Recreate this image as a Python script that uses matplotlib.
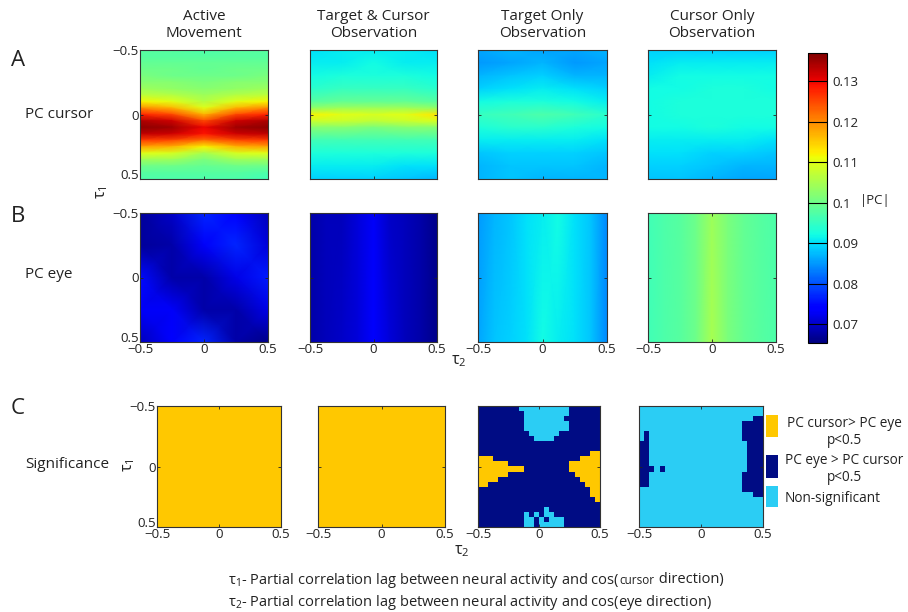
import numpy as np
import matplotlib
matplotlib.use("Agg")
import matplotlib.pyplot as plt
from matplotlib.colors import ListedColormap, Normalize
from matplotlib.patches import Rectangle
from matplotlib.offsetbox import TextArea, HPacker, AnnotationBbox
import matplotlib.cm as cm

plt.rcParams['font.family'] = ['Open Sans', 'DejaVu Sans']
plt.rcParams['mathtext.fontset'] = 'custom'
plt.rcParams['mathtext.rm'] = 'Open Sans'
plt.rcParams['mathtext.it'] = 'Open Sans:italic'
plt.rcParams['axes.unicode_minus'] = True

# ---------------- data ----------------
conditions = ["Active\nMovement", "Target & Cursor\nObservation",
              "Target Only\nObservation", "Cursor Only\nObservation"]
row_labels = ["PC cursor", "PC eye", "Significance"]
panel_letters = ["A", "B", "C"]
tick_vals = [-0.5, 0, 0.5]
tick_labels = ["\u22120.5", "0", "0.5"]
cbar_ticks = [0.07, 0.08, 0.09, 0.10, 0.11, 0.12, 0.13]
cbar_ticklabels = ["0.07", "0.08", "0.09", "0.1", "0.11", "0.12", "0.13"]
clim = (0.0653, 0.137)
legend_labels = ["PC cursor> PC eye\np<0.5", "PC eye > PC cursor\np<0.5", "Non-significant"]

tau2_5 = [-0.5, -0.25, 0.0, 0.25, 0.5]
tau2_9 = [-0.5, -0.375, -0.25, -0.125, 0.0, 0.125, 0.25, 0.375, 0.5]
tau1_21 = [-0.5, -0.45, -0.4, -0.35, -0.3, -0.25, -0.2, -0.15, -0.1, -0.05, 0.0,
           0.05, 0.1, 0.15, 0.2, 0.25, 0.3, 0.35, 0.4, 0.45, 0.5]
tau1_13 = [-0.5, -0.4, -0.3, -0.2, -0.1, -0.05, 0.0, 0.05, 0.1, 0.2, 0.3, 0.4, 0.5]
tau1_11 = [-0.5, -0.4, -0.3, -0.2, -0.1, 0.0, 0.1, 0.2, 0.3, 0.4, 0.5]
tau1_5 = [-0.5, -0.25, 0.0, 0.25, 0.5]
tau1_2 = [-0.5, 0.5]

# Row A: |PC| cursor
pc_cursor_active = [
    [0.098, 0.098, 0.097, 0.098, 0.098],
    [0.098, 0.098, 0.098, 0.098, 0.098],
    [0.099, 0.099, 0.099, 0.099, 0.099],
    [0.100, 0.100, 0.099, 0.100, 0.100],
    [0.101, 0.100, 0.100, 0.100, 0.101],
    [0.102, 0.102, 0.101, 0.102, 0.102],
    [0.104, 0.103, 0.102, 0.103, 0.104],
    [0.107, 0.106, 0.104, 0.106, 0.107],
    [0.112, 0.110, 0.106, 0.110, 0.112],
    [0.120, 0.117, 0.110, 0.117, 0.120],
    [0.128, 0.125, 0.117, 0.125, 0.128],
    [0.134, 0.132, 0.125, 0.132, 0.134],
    [0.136, 0.135, 0.130, 0.135, 0.136],
    [0.133, 0.132, 0.129, 0.132, 0.133],
    [0.126, 0.125, 0.122, 0.125, 0.126],
    [0.118, 0.117, 0.112, 0.117, 0.118],
    [0.110, 0.109, 0.105, 0.109, 0.110],
    [0.104, 0.104, 0.101, 0.104, 0.104],
    [0.100, 0.100, 0.099, 0.100, 0.100],
    [0.098, 0.098, 0.098, 0.098, 0.097],
    [0.097, 0.097, 0.097, 0.097, 0.096],
]
pc_cursor_tc = [
    [0.090, 0.091, 0.091, 0.091, 0.090],
    [0.091, 0.091, 0.092, 0.091, 0.091],
    [0.092, 0.093, 0.093, 0.093, 0.092],
    [0.094, 0.095, 0.095, 0.095, 0.094],
    [0.098, 0.099, 0.099, 0.099, 0.098],
    [0.103, 0.104, 0.104, 0.104, 0.103],
    [0.112, 0.110, 0.109, 0.110, 0.113],
    [0.108, 0.108, 0.107, 0.108, 0.109],
    [0.102, 0.102, 0.101, 0.102, 0.102],
    [0.096, 0.096, 0.096, 0.096, 0.096],
    [0.093, 0.093, 0.093, 0.093, 0.093],
    [0.091, 0.091, 0.091, 0.090, 0.090],
    [0.089, 0.089, 0.089, 0.088, 0.087],
]
pc_cursor_target = [
    [0.086, 0.087, 0.086, 0.086, 0.087],
    [0.085, 0.086, 0.087, 0.085, 0.086],
    [0.087, 0.088, 0.089, 0.087, 0.087],
    [0.089, 0.090, 0.091, 0.090, 0.089],
    [0.092, 0.093, 0.093, 0.092, 0.091],
    [0.095, 0.096, 0.097, 0.096, 0.094],
    [0.093, 0.094, 0.094, 0.093, 0.092],
    [0.091, 0.091, 0.091, 0.091, 0.090],
    [0.088, 0.089, 0.089, 0.089, 0.088],
    [0.087, 0.088, 0.088, 0.088, 0.087],
    [0.087, 0.088, 0.087, 0.087, 0.087],
]
pc_cursor_cursor = [
    [0.089, 0.089, 0.089, 0.089, 0.089],
    [0.090, 0.091, 0.091, 0.091, 0.091],
    [0.091, 0.092, 0.092, 0.092, 0.092],
    [0.092, 0.092, 0.093, 0.093, 0.092],
    [0.092, 0.093, 0.093, 0.093, 0.093],
    [0.092, 0.093, 0.093, 0.093, 0.093],
    [0.092, 0.092, 0.093, 0.092, 0.092],
    [0.091, 0.091, 0.091, 0.091, 0.090],
    [0.090, 0.090, 0.089, 0.089, 0.088],
    [0.089, 0.089, 0.088, 0.087, 0.087],
    [0.088, 0.088, 0.087, 0.086, 0.086],
]

# Row B: |PC| eye
pc_eye_active = [
    [0.067, 0.070, 0.077, 0.074, 0.069],
    [0.067, 0.068, 0.073, 0.077, 0.071],
    [0.075, 0.068, 0.068, 0.072, 0.076],
    [0.073, 0.073, 0.068, 0.068, 0.072],
    [0.069, 0.074, 0.077, 0.068, 0.066],
]
pc_eye_tc = [
    [0.068, 0.069, 0.069, 0.071, 0.073, 0.070, 0.069, 0.068, 0.066],
    [0.068, 0.069, 0.070, 0.071, 0.074, 0.071, 0.069, 0.068, 0.066],
]
pc_eye_target = [
    [0.085, 0.087, 0.088, 0.090, 0.091, 0.092, 0.090, 0.088, 0.084],
    [0.086, 0.088, 0.089, 0.090, 0.092, 0.091, 0.090, 0.088, 0.084],
]
pc_eye_cursor = [
    [0.096, 0.097, 0.098, 0.100, 0.104, 0.101, 0.099, 0.098, 0.097],
    [0.096, 0.097, 0.098, 0.100, 0.105, 0.101, 0.099, 0.098, 0.097],
]

# Row C: significance maps (Y: cursor>eye, D: eye>cursor, C: non-significant)
sig_active = ["Y"]
sig_tc = ["Y"]
sig_target = [
    "DDDDDDDDCCCCCCCCCCDDDDDD",
    "DDDDDDDDDCCCCCCCCCDDDDDD",
    "DDDDDDDDDCCCCCCCCDDDDDDD",
    "DDDDDDDDDCCCCCCCCCDDDDDD",
    "DDDDDDDDDCCCCCCCCCDDDDDD",
    "DDDDDDDDDDCCCCCCDDDDDDDD",
    "DDDDDDDDDDDCCCCDDDDDDDDD",
    "DDDDDDDDDDDDDDDDDDDDDDDD",
    "DDDDDDDDDDDDDDDDDDDDDDDD",
    "DDDDDDDDDDDDDDDDDDDDDDYY",
    "YYYDDDDDDDDDDDDDDDDDYYYY",
    "YYYYYYDDDDDDDDDDDDYYYYYY",
    "YYYYYYYYYDDDDDDDDDYYYYYY",
    "YYYYYYDDDDDDDDDDDDDYYYYY",
    "YYYYDDDDDDDDDDDDDDDDYYYY",
    "YYDDDDDDDDDDDDDDDDDDDYYY",
    "DDDDDDDDDDDDDDDDDDDDDDYY",
    "DDDDDDDDDDDDDDDDDDDDDDYY",
    "DDDDDDDDDDDDDDDDDDDDDDDY",
    "DDDDDDDDDDDDDDDDDDDDDDDD",
    "DDDDDDDDDDDDDCDDDDDDDDDD",
    "DDDDDDDDDCDCDCCDDDDDDDDD",
    "DDDDDDDDDCCDCDCCCDDDDDDD",
    "DDDDDDDDDCCDCCCCCDDDDDDD",
]
sig_cursor = [
    "CCCCCCCCCCCCCCCCCCCCCCCC",
    "CCCCCCCCCCCCCCCCCCCCCCCC",
    "CCCCCCCCCCCCCCCCCCCCCCDD",
    "CCCCCCCCCCCCCCCCCCCCDDDD",
    "CCCCCCCCCCCCCCCCCCCCDDDD",
    "CDCCCCCCCCCCCCCCCCCCDDDD",
    "CDCCCCCCCCCCCCCCCCCCDDDD",
    "DDCCCCCCCCCCCCCCCCCCCDDD",
    "DDCCCCCCCCCCCCCCCCCCCDDD",
    "DDCCCCCCCCCCCCCCCCCCCDDD",
    "DDCCCCCCCCCCCCCCCCCCCDDD",
    "DDCCCCCCCCCCCCCCCCCCCDDD",
    "DDDCDCCCCCCCCCCCCCCCCDDD",
    "DDCCCCCCCCCCCCCCCCCCDDDD",
    "DDCCCCCCCCCCCCCCCCCCDDDD",
    "DDCCCCCCCCCCCCCCCCCCDDDD",
    "CCCCCCCCCCCCCCCCCCCCDDDD",
    "CCCCCCCCCCCCCCCCCCCCCCDD",
    "CCCCCCCCCCCCCCCCCCCCCCCC",
    "CCCCCCCCCCCCCCCCCCCCCCCC",
    "CCCCCCCCCCCCCCCCCCCCCCCC",
    "CCCCCCCCCCCCCCCCCCCCCCCC",
    "CCCCCCCCCCCCCCCCCCCCCCCC",
    "CCCCCCCCCCCCCCCCCCCCCCCC",
]
sig_codes = {"Y": 0, "D": 1, "C": 2}
sig_colors = ["#FFC800", "#000C84", "#2BCDF4"]

# ---------------- figure ----------------
W, H = 908, 612
fig = plt.figure(figsize=(W / 100, H / 100), dpi=100)


def ax_px(x0, y0, x1, y1):
    return fig.add_axes([x0 / W, 1 - y1 / H, (x1 - x0) / W, (y1 - y0) / H])


def fx(x):
    return x / W


def fy(y):
    return 1 - y / H


norm = Normalize(*clim)
cmap = plt.get_cmap("jet")
sig_cmap = ListedColormap(sig_colors)
TXT = "#222222"

colsAB = [(140, 268), (310, 437), (478, 607), (648, 776)]
colsC = [(157, 281), (318, 445), (478, 600), (639, 763)]
rowA = (50, 179)
rowB = (213, 342)
rowC = (406, 527)

rowA_data = [(tau2_5, tau1_21, pc_cursor_active), (tau2_5, tau1_13, pc_cursor_tc),
             (tau2_5, tau1_11, pc_cursor_target), (tau2_5, tau1_11, pc_cursor_cursor)]
rowB_data = [(tau2_5, tau1_5, pc_eye_active), (tau2_9, tau1_2, pc_eye_tc),
             (tau2_9, tau1_2, pc_eye_target), (tau2_9, tau1_2, pc_eye_cursor)]
rowC_data = [sig_active, sig_tc, sig_target, sig_cursor]


def style(ax, show_x, show_y):
    ax.set_xlim(-0.5, 0.5)
    ax.set_ylim(0.5, -0.5)
    ax.set_xticks(tick_vals)
    ax.set_yticks(tick_vals)
    ax.set_xticklabels(tick_labels if show_x else [])
    ax.set_yticklabels(tick_labels if show_y else [])
    ax.tick_params(direction="in", length=2.5, width=0.6, top=True, right=True,
                   labelsize=9.5, pad=1.0, colors=TXT)
    if show_y:
        # the bottom y label sits on the axis corner, as in the original
        ax.get_yticklabels()[-1].set_verticalalignment("baseline")
    for s in ax.spines.values():
        s.set_linewidth(0.8)
        s.set_color("#333333")


for j, (x0, x1) in enumerate(colsAB):
    ax = ax_px(x0, rowA[0], x1, rowA[1])
    t2, t1, z = rowA_data[j]
    ax.pcolormesh(t2, t1, np.array(z), shading="gouraud", cmap=cmap, norm=norm)
    style(ax, False, j == 0)
    fig.text(fx((x0 + x1) / 2), fy(25), conditions[j], ha="center", va="center",
             fontsize=11, color=TXT, linespacing=1.15)

for j, (x0, x1) in enumerate(colsAB):
    ax = ax_px(x0, rowB[0], x1, rowB[1])
    t2, t1, z = rowB_data[j]
    ax.pcolormesh(t2, t1, np.array(z), shading="gouraud", cmap=cmap, norm=norm)
    style(ax, True, j == 0)

for j, (x0, x1) in enumerate(colsC):
    ax = ax_px(x0, rowC[0], x1, rowC[1])
    grid = np.array([[sig_codes[c] for c in row] for row in rowC_data[j]])
    ax.imshow(grid, cmap=sig_cmap, vmin=-0.5, vmax=2.5, interpolation="nearest",
              extent=(-0.5, 0.5, 0.5, -0.5), aspect="auto")
    style(ax, True, j == 0)

# colorbar
cax = ax_px(808, 53, 827, 343)
sm = cm.ScalarMappable(norm=norm, cmap=cmap)
cb = fig.colorbar(sm, cax=cax)
cb.set_ticks(cbar_ticks)
cb.set_ticklabels(cbar_ticklabels)
cax.tick_params(length=0, labelsize=9.5, pad=4, colors=TXT)
for v in cbar_ticks:
    cax.axhline(v, color="black", lw=0.8)
cb.outline.set_linewidth(0.8)
fig.text(fx(860), fy(201), "|PC|", fontsize=9.5, ha="left", va="center", color=TXT)

# panel letters and row labels
for letter, y in zip(panel_letters, [60, 216, 408]):
    fig.text(fx(11), fy(y), letter, fontsize=16, ha="left", va="center", color=TXT)
for lab, y in zip(row_labels, [114, 275, 465]):
    fig.text(fx(25), fy(y), lab, fontsize=11, ha="left", va="center", color=TXT)

# axis symbols
fig.text(fx(102), fy(192), "\u03c4$_1$", rotation=90, fontsize=11.5, ha="center", va="center", color=TXT)
fig.text(fx(129), fy(465), "\u03c4$_1$", rotation=90, fontsize=11.5, ha="center", va="center", color=TXT)
fig.text(fx(459), fy(361), "\u03c4$_2$", fontsize=11.5, ha="center", va="center", color=TXT)
fig.text(fx(462), fy(551), "\u03c4$_2$", fontsize=11.5, ha="center", va="center", color=TXT)

# significance legend
legend_y = [(415, 437), (455, 478), (486, 507)]
for (ya, yb), col in zip(legend_y, sig_colors):
    fig.add_artist(Rectangle((fx(766), fy(yb)), fx(12), (yb - ya) / H,
                             transform=fig.transFigure, facecolor=col, edgecolor="none"))
fig.text(fx(844), fy(432), legend_labels[0], fontsize=9.8, ha="center", va="center",
         linespacing=1.15, color=TXT)
fig.text(fx(844), fy(469), legend_labels[1], fontsize=9.8, ha="center", va="center",
         linespacing=1.15, color=TXT)
fig.text(fx(785), fy(499), legend_labels[2], fontsize=9.8, ha="left", va="center",
         color=TXT)

# bottom description
line1 = HPacker(children=[
    TextArea("\u03c4$_1$- Partial correlation lag between neural activity and cos(",
             textprops=dict(fontsize=10.5, color=TXT)),
    TextArea("cursor", textprops=dict(fontsize=8.5, color=TXT)),
    TextArea(" direction)", textprops=dict(fontsize=10.5, color=TXT)),
], align="baseline", pad=0, sep=0)
ab = AnnotationBbox(line1, (fx(228), fy(580)), xycoords="figure fraction",
                    box_alignment=(0, 0.5), frameon=False, pad=0)
fig.add_artist(ab)
fig.text(fx(228), fy(603), "\u03c4$_2$- Partial correlation lag between neural activity and cos(eye direction)",
         fontsize=10.5, ha="left", va="center", color=TXT)

fig.savefig("out.png", dpi=100)
